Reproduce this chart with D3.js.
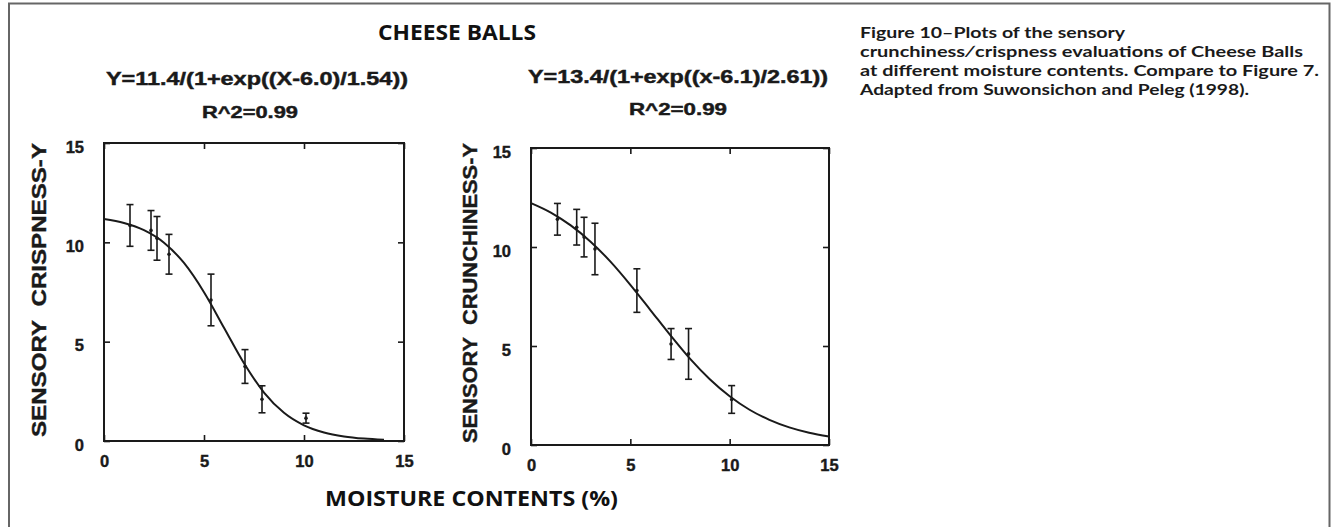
<!DOCTYPE html>
<html><head><meta charset="utf-8">
<script src="https://cdn.jsdelivr.net/npm/d3@7"></script>
<style>html,body{margin:0;padding:0;background:#fff;}svg{display:block;}</style>
</head><body>
<svg id="chart" width="1332" height="527"></svg>
<script>
// ---- data ----
const xTicks = [0, 5, 10, 15];
const yTicks = [0, 5, 10, 15];

const crispX   = [1.3, 2.35, 2.65, 3.25, 5.35, 7.05, 7.9, 10.1];
const crispY   = [10.85, 10.6, 10.2, 9.4, 7.1, 3.75, 2.1, 1.15];
const crispErr = [1.05, 1.0, 1.1, 1.0, 1.3, 0.85, 0.68, 0.25];
const crispCurveX = [0, 1, 2, 3, 4, 5, 6, 7, 8, 9, 10, 11, 12, 13, 14];
const crispCurveY = [11.17, 10.97, 10.61, 9.98, 8.96, 7.49, 5.70, 3.91, 2.44, 1.42, 0.79, 0.43, 0.23, 0.12, 0.06];

const crunchX   = [1.33, 2.3, 2.67, 3.22, 5.33, 7.05, 7.93, 10.1];
const crunchY   = [11.4, 11.0, 10.5, 9.9, 7.8, 5.1, 4.6, 2.3];
const crunchErr = [0.8, 0.9, 1.0, 1.3, 1.1, 0.78, 1.28, 0.7];
const crunchCurveX = [0, 1, 2, 3, 4, 5, 6, 7, 8, 9, 10, 11, 12, 13, 14, 15];
const crunchCurveY = [12.22, 11.74, 11.09, 10.27, 9.26, 8.09, 6.83, 5.56, 4.36, 3.32, 2.46, 1.78, 1.27, 0.89, 0.62, 0.43];

const mainTitle = "CHEESE BALLS";
const xTitle = "MOISTURE CONTENTS (%)";
const captionLines = [
  "Figure 10\u2013Plots of the sensory",
  "crunchiness\u2215crispness evaluations of Cheese Balls",
  "at different moisture contents. Compare to Figure 7.",
  "Adapted from Suwonsichon and Peleg (1998)."
];
const captionWidths = [265, 443, 459, 389];
const panels = [
  {eq: "Y=11.4/(1+exp((X-6.0)/1.54))", r2: "R^2=0.99", ylab: "SENSORY\u00a0\u00a0CRISPNESS-Y",
   px: crispX, py: crispY, pe: crispErr, cx: crispCurveX, cy: crispCurveY,
   box: [104, 404, 143, 441], eqX: 106, eqY: 85, eqW: 302, r2X: 202, r2Y: 118, r2W: 96,
   ylX: 46, ylY: 290, ylW: 294},
  {eq: "Y=13.4/(1+exp((x-6.1)/2.61))", r2: "R^2=0.99", ylab: "SENSORY\u00a0\u00a0CRUNCHINESS-Y",
   px: crunchX, py: crunchY, pe: crunchErr, cx: crunchCurveX, cy: crunchCurveY,
   box: [531, 829, 148, 445], eqX: 528, eqY: 83, eqW: 300, r2X: 629, r2Y: 115, r2W: 98,
   ylX: 477, ylY: 293, ylW: 300}
];

// ---- drawing ----
const svg = d3.select("#chart");
const ink = "#1a1a1a";
const arial = "'Liberation Sans', Arial, Helvetica, sans-serif";

// frame
svg.append("path")
  .attr("d", "M9,530 L9,3.5 L1329.5,3.5 L1329.5,530")
  .attr("fill", "none").attr("stroke", "#666").attr("stroke-width", 2);

// main title
svg.append("text").attr("x", 378).attr("y", 40)
  .attr("font-family", "'Open Sans', sans-serif").attr("font-weight", 700)
  .attr("font-size", 20.5).attr("fill", "#111")
  .attr("textLength", 158).attr("lengthAdjust", "spacingAndGlyphs").text(mainTitle);

// x title
svg.append("text").attr("x", 325).attr("y", 506)
  .attr("font-family", "'Open Sans', sans-serif").attr("font-weight", 700)
  .attr("font-size", 22).attr("fill", "#111")
  .attr("textLength", 293).attr("lengthAdjust", "spacingAndGlyphs").text(xTitle);

// caption
captionLines.forEach((t, i) => {
  svg.append("text").attr("x", 860).attr("y", 38 + i * 19)
    .attr("font-family", "Lato, 'Noto Sans', sans-serif").attr("font-weight", 700)
    .attr("font-size", 15.6).attr("fill", "#1a1a1a")
    .attr("textLength", captionWidths[i]).attr("lengthAdjust", "spacingAndGlyphs").text(t);
});

panels.forEach(p => {
  const [x0, x1, y0, y1] = p.box;
  const x = d3.scaleLinear().domain([0, 15]).range([x0, x1]);
  const y = d3.scaleLinear().domain([0, 15]).range([y1, y0]);
  const g = svg.append("g");

  // equation text
  g.append("text").attr("x", p.eqX).attr("y", p.eqY)
    .attr("font-family", arial).attr("font-weight", 700).attr("font-size", 18)
    .attr("fill", ink).attr("stroke", ink).attr("stroke-width", 0.45)
    .attr("textLength", p.eqW).attr("lengthAdjust", "spacingAndGlyphs").text(p.eq);
  g.append("text").attr("x", p.r2X).attr("y", p.r2Y)
    .attr("font-family", arial).attr("font-weight", 700).attr("font-size", 17)
    .attr("fill", ink).attr("stroke", ink).attr("stroke-width", 0.45)
    .attr("textLength", p.r2W).attr("lengthAdjust", "spacingAndGlyphs").text(p.r2);

  // y label
  g.append("text").attr("transform", `translate(${p.ylX},${p.ylY}) rotate(-90)`)
    .attr("x", -p.ylW / 2)
    .attr("font-family", arial).attr("font-weight", 700)
    .attr("font-size", 20).attr("fill", ink).attr("stroke", ink).attr("stroke-width", 0.4)
    .attr("textLength", p.ylW).attr("lengthAdjust", "spacingAndGlyphs").text(p.ylab);

  // axes (inward ticks)
  const style = a => {
    a.select(".domain").remove();
    a.selectAll("line").attr("stroke", ink).attr("stroke-width", 1.6);
    a.selectAll("text").attr("font-family", arial).attr("font-weight", 700)
      .attr("font-size", 16.5).attr("fill", ink).attr("stroke", ink).attr("stroke-width", 0.4);
  };
  g.append("g").attr("transform", `translate(0,${y1})`)
    .call(d3.axisBottom(x).tickValues(xTicks).tickSize(-6).tickPadding(14).tickFormat(d3.format("d")))
    .call(style).call(a => a.selectAll("text").attr("dy", "0.71em").attr("y", 14));
  g.append("g").attr("transform", `translate(0,${y0})`)
    .call(d3.axisTop(x).tickValues(xTicks).tickSize(-6).tickFormat(""))
    .call(style);
  g.append("g").attr("transform", `translate(${x0},0)`)
    .call(d3.axisLeft(y).tickValues(yTicks).tickSize(-6).tickPadding(20).tickFormat(d3.format("d")))
    .call(style).call(a => a.selectAll("text").attr("x", -20).attr("dy", "0.55em"));
  g.append("g").attr("transform", `translate(${x1},0)`)
    .call(d3.axisRight(y).tickValues(yTicks).tickSize(-6).tickFormat(""))
    .call(style);

  // frame
  g.append("rect").attr("x", x0).attr("y", y0).attr("width", x1 - x0).attr("height", y1 - y0)
    .attr("fill", "none").attr("stroke", ink).attr("stroke-width", 2);

  // curve
  const pts = p.cx.map((v, i) => [v, p.cy[i]]);
  g.append("path").datum(pts)
    .attr("d", d3.line().x(d => x(d[0])).y(d => y(d[1])).curve(d3.curveMonotoneX))
    .attr("fill", "none").attr("stroke", ink).attr("stroke-width", 2);

  // error bars
  const data = p.px.map((v, i) => ({x: v, y: p.py[i], e: p.pe[i]}));
  const eb = g.append("g").attr("stroke", ink).attr("stroke-width", 1.6);
  data.forEach(d => {
    const cx = x(d.x), top = y(d.y + d.e), bot = y(d.y - d.e);
    eb.append("line").attr("x1", cx).attr("x2", cx).attr("y1", top).attr("y2", bot);
    eb.append("line").attr("x1", cx - 3.5).attr("x2", cx + 3.5).attr("y1", top).attr("y2", top);
    eb.append("line").attr("x1", cx - 3.5).attr("x2", cx + 3.5).attr("y1", bot).attr("y2", bot);
  });
  g.append("g").selectAll("circle").data(data).join("circle")
    .attr("cx", d => x(d.x)).attr("cy", d => y(d.y)).attr("r", 1.8).attr("fill", ink);
});
</script>
</body></html>
